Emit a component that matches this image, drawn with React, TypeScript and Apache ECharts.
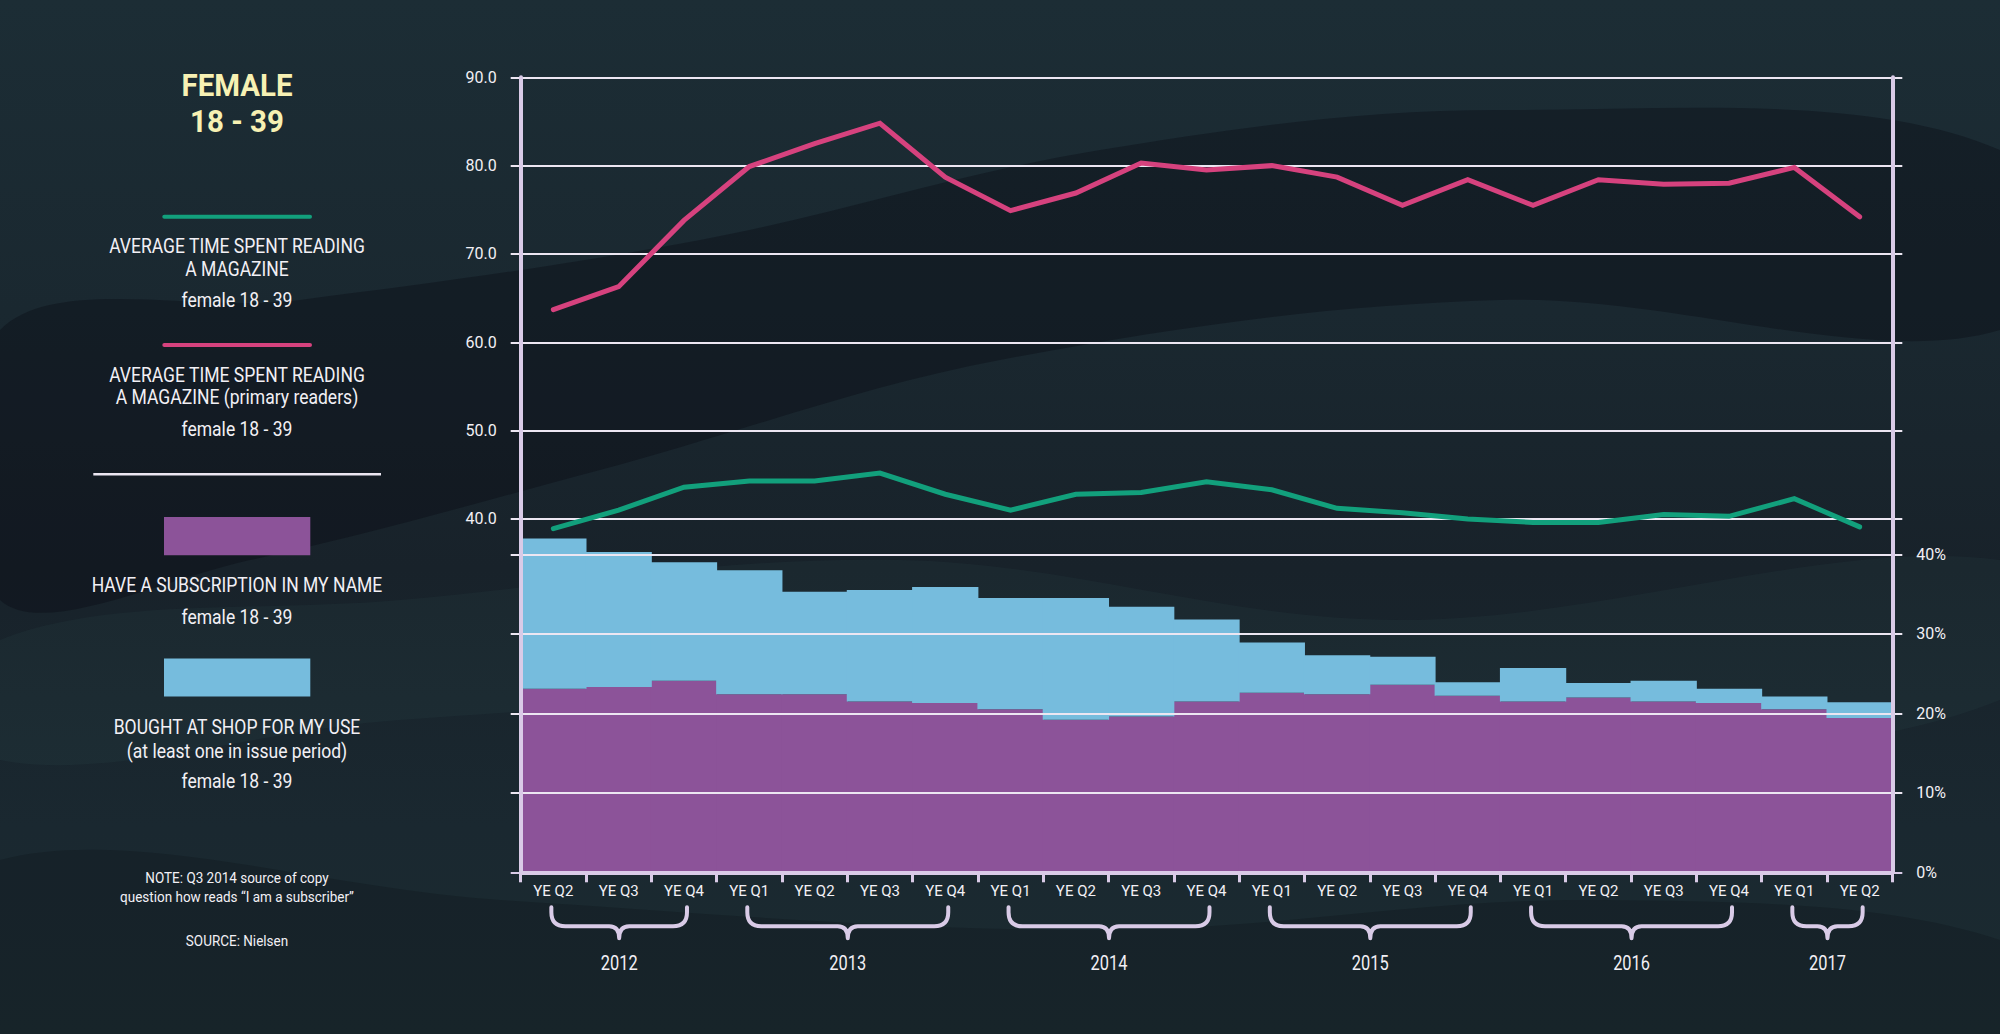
import React, { useEffect, useRef } from "react";
import * as echarts from "echarts";

// ---------- data ----------
const categories = [
  "2012 Q2", "2012 Q3", "2012 Q4",
  "2013 Q1", "2013 Q2", "2013 Q3", "2013 Q4",
  "2014 Q1", "2014 Q2", "2014 Q3", "2014 Q4",
  "2015 Q1", "2015 Q2", "2015 Q3", "2015 Q4",
  "2016 Q1", "2016 Q2", "2016 Q3", "2016 Q4",
  "2017 Q1", "2017 Q2",
];
const quarterLabels = [
  "YE Q2", "YE Q3", "YE Q4",
  "YE Q1", "YE Q2", "YE Q3", "YE Q4",
  "YE Q1", "YE Q2", "YE Q3", "YE Q4",
  "YE Q1", "YE Q2", "YE Q3", "YE Q4",
  "YE Q1", "YE Q2", "YE Q3", "YE Q4",
  "YE Q1", "YE Q2",
];
const years = ["2012", "2013", "2014", "2015", "2016", "2017"];
const yearFirstIndex = [0, 3, 7, 11, 15, 19];
const yearLastIndex = [2, 6, 10, 14, 18, 20];

// average time spent reading a magazine (female 18-39)
const avgTimeAll = [38.9, 41.0, 43.6, 44.3, 44.3, 45.2, 42.8, 41.0, 42.8, 43.0, 44.2, 43.3, 41.2, 40.7, 40.0, 39.6, 39.6, 40.5, 40.3, 42.3, 39.1];
// average time spent reading a magazine, primary readers (female 18-39)
const avgTimePrimary = [63.7, 66.3, 73.8, 79.9, 82.5, 84.8, 78.7, 74.9, 76.9, 80.3, 79.5, 80.0, 78.7, 75.5, 78.4, 75.5, 78.4, 77.9, 78.0, 79.8, 74.2];
// have a subscription in my name (%)
const subscription = [23.1, 23.3, 24.1, 22.4, 22.4, 21.5, 21.3, 20.5, 19.2, 19.6, 21.5, 22.6, 22.4, 23.6, 22.2, 21.5, 22.0, 21.5, 21.3, 20.5, 19.4];
// bought at shop for my use (%), stacked on top of subscription
const boughtAtShop = [18.9, 17.0, 14.9, 15.6, 12.9, 14.0, 14.6, 14.0, 15.3, 13.8, 10.3, 6.3, 4.9, 3.5, 1.7, 4.2, 1.8, 2.6, 1.8, 1.6, 2.0];

const leftTicks = [40, 50, 60, 70, 80, 90];
const rightTicks = [0, 10, 20, 30, 40];

// ---------- styles ----------
const FONT = "Roboto";
const GREEN = "#12a07c";
const PINK = "#d6427e";
const PURPLE = "#8c5399";
const BLUE = "#76bcdd";
const AXIS = "#d9cbe7";
const GRIDC = "#ece6f2";
const TEXT = "#f2f0f5";
const TITLE = "#f7f1b3";
const NONE = "rgba(0,0,0,0)";

const GRID_LEFT = 520.7;
const GRID_RIGHT = 2000 - 1892.3;
const GRID_TOP = 77.3;
const GRID_BOTTOM = 1034 - 872.3;
const EXT = 10;

function legendText(text: string, y: number, size = 21, sx = 0.835, extra: any = {}) {
  return {
    type: "text",
    x: 237,
    y,
    scaleX: sx,
    silent: true,
    z: 10,
    style: {
      text,
      fill: TEXT,
      fontSize: size,
      fontFamily: FONT,
      align: "center",
      verticalAlign: "middle",
      ...extra,
    },
  };
}

function band(points: number[][], fill: string) {
  return { type: "polygon", silent: true, z: -100, shape: { points, smooth: 0.35 }, style: { fill } };
}

function buildOption(): any {
  const leftSplitColors: string[] = [];
  for (let v = 0; v <= 90; v += 10) leftSplitColors.push(v === 0 ? AXIS : leftTicks.includes(v) ? GRIDC : NONE);
  const rightSplitColors: string[] = [];
  for (let v = 0; v <= 100; v += 10) rightSplitColors.push(v > 0 && rightTicks.includes(v) ? GRIDC : NONE);

  const braceData = yearFirstIndex.map((s, i) => [s, yearLastIndex[i]]);

  return {
    animation: false,
    backgroundColor: new echarts.graphic.LinearGradient(0, 0, 0, 1, [
      { offset: 0, color: "#1c2d35" },
      { offset: 0.3, color: "#1a2830" },
      { offset: 0.55, color: "#18222a" },
      { offset: 0.8, color: "#1a2830" },
      { offset: 1, color: "#1b2b30" },
    ]),
    textStyle: { fontFamily: FONT },
    grid: [
      { left: GRID_LEFT, right: GRID_RIGHT, top: GRID_TOP, bottom: GRID_BOTTOM, containLabel: false, outerBoundsMode: "none" },
      { left: GRID_LEFT - EXT, right: GRID_RIGHT - EXT, top: GRID_TOP, bottom: GRID_BOTTOM, containLabel: false, outerBoundsMode: "none" },
    ],
    xAxis: [
      {
        type: "category",
        gridIndex: 0,
        data: categories,
        boundaryGap: true,
        z: 3,
        axisLine: { show: true, lineStyle: { color: AXIS, width: 4 } },
        axisTick: { show: true, length: 10, lineStyle: { color: AXIS, width: 3 } },
        axisLabel: {
          show: true,
          interval: 0,
          margin: 11,
          color: TEXT,
          fontSize: 15,
          fontFamily: FONT,
          formatter: (_v: string, i: number) => quarterLabels[i],
        },
        splitLine: { show: false },
      },
      { type: "value", gridIndex: 1, show: false, min: 0, max: 1 },
    ],
    yAxis: [
      {
        type: "value",
        gridIndex: 0,
        position: "left",
        min: 0,
        max: 90,
        interval: 10,
        z: 3,
        axisLine: { show: true, lineStyle: { color: AXIS, width: 4 } },
        axisTick: { show: false },
        axisLabel: {
          margin: 24,
          color: TEXT,
          fontSize: 16,
          fontFamily: FONT,
          formatter: (v: number) => (leftTicks.includes(v) ? v.toFixed(1) : ""),
        },
        splitLine: { show: false },
      },
      {
        type: "value",
        gridIndex: 0,
        position: "right",
        min: 0,
        max: 100,
        interval: 10,
        z: 3,
        axisLine: { show: true, lineStyle: { color: AXIS, width: 4 } },
        axisTick: { show: false },
        axisLabel: {
          margin: 24,
          color: TEXT,
          fontSize: 16,
          fontFamily: FONT,
          formatter: (v: number) => (rightTicks.includes(v) ? v + "%" : ""),
        },
        splitLine: { show: false },
      },
      {
        type: "value",
        gridIndex: 1,
        min: 0,
        max: 90,
        interval: 10,
        z: 3,
        axisLine: { show: false },
        axisTick: { show: false },
        axisLabel: { show: false },
        splitLine: { show: true, showMinLine: true, showMaxLine: true, lineStyle: { color: leftSplitColors, width: 2 } },
      },
      {
        type: "value",
        gridIndex: 1,
        min: 0,
        max: 100,
        interval: 10,
        z: 3,
        axisLine: { show: false },
        axisTick: { show: false },
        axisLabel: { show: false },
        splitLine: { show: true, showMinLine: true, showMaxLine: true, lineStyle: { color: rightSplitColors, width: 2 } },
      },
    ],
    series: [
      {
        name: "HAVE A SUBSCRIPTION IN MY NAME",
        type: "bar",
        xAxisIndex: 0,
        yAxisIndex: 1,
        stack: "copies",
        barWidth: "101.5%",
        z: 2,
        silent: true,
        itemStyle: { color: PURPLE, borderWidth: 0 },
        data: subscription,
      },
      {
        name: "BOUGHT AT SHOP FOR MY USE",
        type: "bar",
        xAxisIndex: 0,
        yAxisIndex: 1,
        stack: "copies",
        barWidth: "101.5%",
        z: 2,
        silent: true,
        itemStyle: { color: BLUE, borderWidth: 0 },
        data: boughtAtShop,
      },
      {
        name: "AVERAGE TIME SPENT READING A MAGAZINE",
        type: "line",
        xAxisIndex: 0,
        yAxisIndex: 0,
        z: 5,
        silent: true,
        symbol: "none",
        showSymbol: false,
        clip: false,
        lineStyle: { color: GREEN, width: 5, cap: "round", join: "miter" },
        data: avgTimeAll,
      },
      {
        name: "AVERAGE TIME SPENT READING A MAGAZINE (primary readers)",
        type: "line",
        xAxisIndex: 0,
        yAxisIndex: 0,
        z: 5,
        silent: true,
        symbol: "none",
        showSymbol: false,
        clip: false,
        lineStyle: { color: PINK, width: 5, cap: "round", join: "miter" },
        data: avgTimePrimary,
      },
      {
        name: "years",
        type: "custom",
        xAxisIndex: 0,
        yAxisIndex: 0,
        z: 5,
        silent: true,
        clip: false,
        encode: { x: [0, 1] },
        data: braceData,
        renderItem: (params: any, api: any) => {
          const p1 = api.coord([api.value(0), 0]);
          const p2 = api.coord([api.value(1), 0]);
          const y0 = p1[1];
          const x1 = p1[0] - 2;
          const x2 = p2[0] + 3;
          const xm = (x1 + x2) / 2;
          const yt = y0 + 35;
          const yh = y0 + 54;
          const ytip = y0 + 66;
          const r = 14;
          const c = 10;
          const d =
            `M${x1},${yt} L${x1},${yh - r} Q${x1},${yh} ${x1 + r},${yh} L${xm - c},${yh} ` +
            `Q${xm},${yh} ${xm},${ytip} Q${xm},${yh} ${xm + c},${yh} L${x2 - r},${yh} ` +
            `Q${x2},${yh} ${x2},${yh - r} L${x2},${yt}`;
          return {
            type: "group",
            children: [
              {
                type: "path",
                shape: { pathData: d },
                style: { stroke: AXIS, lineWidth: 4, fill: "none", lineCap: "round", lineJoin: "round" },
              },
              {
                type: "text",
                x: xm,
                y: y0 + 91,
                scaleX: 0.82,
                style: {
                  text: years[params.dataIndex],
                  fill: TEXT,
                  fontSize: 20,
                  fontFamily: FONT,
                  align: "center",
                  verticalAlign: "middle",
                },
              },
            ],
          };
        },
      },
    ],
    graphic: [
      // painted background texture (decorative)
      band([[0, 330], [300, 300], [700, 240], [1100, 150], [1500, 110], [2000, 150], [2000, 330], [1500, 300], [1000, 360], [600, 470], [250, 560], [0, 600]], "rgba(8,10,16,0.35)"),
      band([[0, 640], [400, 600], [900, 560], [1400, 620], [2000, 560], [2000, 700], [1500, 760], [900, 700], [400, 720], [0, 760]], "rgba(60,95,100,0.10)"),
      band([[0, 860], [500, 900], [1100, 930], [1600, 900], [2000, 940], [2000, 1034], [0, 1034]], "rgba(12,16,20,0.25)"),
      legendText("FEMALE", 85, 31, 0.95, { fill: TITLE, fontWeight: "bold" }),
      legendText("18 - 39", 121.7, 31, 0.95, { fill: TITLE, fontWeight: "bold" }),
      { type: "line", silent: true, z: 10, shape: { x1: 164.3, y1: 216.7, x2: 310, y2: 216.7 }, style: { stroke: GREEN, lineWidth: 4, lineCap: "round" } },
      legendText("AVERAGE TIME SPENT READING", 245.7),
      legendText("A MAGAZINE", 269),
      legendText("female 18 - 39", 300),
      { type: "line", silent: true, z: 10, shape: { x1: 164.3, y1: 345, x2: 310, y2: 345 }, style: { stroke: PINK, lineWidth: 4, lineCap: "round" } },
      legendText("AVERAGE TIME SPENT READING", 375),
      legendText("A MAGAZINE (primary readers)", 397.3),
      legendText("female 18 - 39", 429),
      { type: "line", silent: true, z: 10, shape: { x1: 93.3, y1: 474.3, x2: 381, y2: 474.3 }, style: { stroke: GRIDC, lineWidth: 2.5 } },
      { type: "rect", silent: true, z: 10, shape: { x: 164, y: 517, width: 146.3, height: 38.2 }, style: { fill: PURPLE } },
      legendText("HAVE A SUBSCRIPTION IN MY NAME", 585.1),
      legendText("female 18 - 39", 616.5),
      { type: "rect", silent: true, z: 10, shape: { x: 164, y: 658.4, width: 146.3, height: 38.1 }, style: { fill: BLUE } },
      legendText("BOUGHT AT SHOP FOR MY USE", 727.2),
      legendText("(at least one in issue period)", 751),
      legendText("female 18 - 39", 781),
      legendText("NOTE: Q3 2014 source of copy", 878, 15, 0.9),
      legendText("question how reads \u201CI am a subscriber\u201D", 896.8, 15, 0.9),
      legendText("SOURCE: Nielsen", 940.4, 15, 0.9),
    ],
  };
}

export default function App() {
  const ref = useRef<HTMLDivElement>(null);
  useEffect(() => {
    if (!ref.current) return;
    const chart = echarts.init(ref.current, null, { renderer: "svg", width: 2000, height: 1034 });
    chart.setOption(buildOption());
    return () => chart.dispose();
  }, []);
  return (
    <div
      ref={ref}
      style={{ position: "absolute", left: 0, top: 0, width: 2000, height: 1034 }}
    />
  );
}
